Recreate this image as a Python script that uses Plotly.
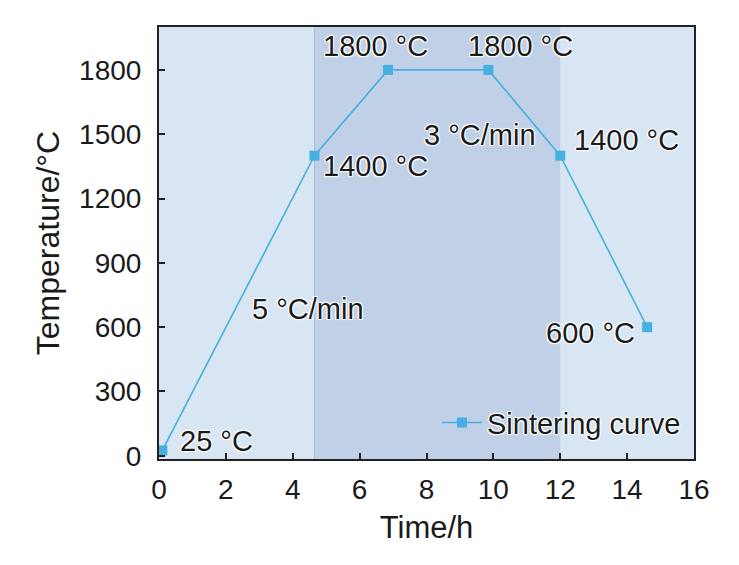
import plotly.graph_objects as go

time_h = [0.1, 4.65, 6.85, 9.85, 12.0, 14.6]
temp_c = [25, 1400, 1800, 1800, 1400, 600]
x_ticks = [0, 2, 4, 6, 8, 10, 12, 14, 16]
y_ticks = [0, 300, 600, 900, 1200, 1500, 1800]
hold_start, hold_end = 4.65, 12.0

ann_text = ["1800 °C", "1800 °C", "3 °C/min", "1400 °C", "1400 °C", "5 °C/min", "600 °C", "25 °C"]
ann_x = [6.46, 10.8, 9.6, 4.84, 12.35, 4.46, 14.29, 0.57]
ann_y = [1912, 1912, 1496, 1351, 1473, 683, 575, 70]
ann_anchor = ["center", "center", "center", "left", "left", "center", "right", "left"]

FONT = "Liberation Sans, Arial, sans-serif"
HALO = "1px 1px 1px white, -1px -1px 1px white, 1px -1px 1px white, -1px 1px 1px white"

fig = go.Figure()
fig.add_trace(go.Scatter(
    x=time_h, y=temp_c, mode="lines+markers", name="Sintering curve",
    line=dict(color="#45b0e1", width=1.6),
    marker=dict(symbol="square", size=10, color="#45b0e1"),
))

fig.add_shape(type="rect", xref="x", yref="paper", x0=-1, x1=17, y0=0, y1=1,
              fillcolor="#d8e5f2", line_width=0, layer="below")
fig.add_shape(type="rect", xref="x", yref="paper", x0=hold_start, x1=hold_end, y0=0, y1=1,
              fillcolor="#c0d1e7", line_width=0, layer="below")
fig.add_shape(type="line", xref="x", yref="paper", x0=hold_start, x1=hold_start, y0=0, y1=1,
              line=dict(color="#a9bdd8", width=1), layer="below")

for t, x, y, a in zip(ann_text, ann_x, ann_y, ann_anchor):
    fig.add_annotation(x=x, y=y, text=t, showarrow=False, xanchor=a, yanchor="middle",
                       font=dict(size=29, color="#1a1a1a", family=FONT, shadow=HALO))

fig.update_layout(
    width=739, height=565,
    margin=dict(l=159, r=45, t=27, b=106),
    paper_bgcolor="white", plot_bgcolor="rgba(0,0,0,0)",
    font=dict(family=FONT, size=28, color="#1a1a1a"),
    showlegend=True,
    legend=dict(x=0.985, y=0.025, xanchor="right", yanchor="bottom",
                bgcolor="rgba(0,0,0,0)", font=dict(size=29, shadow=HALO), itemwidth=40),
)
fig.update_xaxes(
    range=[0, 16], tickvals=x_ticks, ticks="inside", ticklen=6, tickwidth=1.5,
    tickcolor="#222", showline=True, linecolor="#222", linewidth=2, mirror=True,
    showgrid=False, zeroline=False, ticklabelstandoff=4,
    title=dict(text="Time/h", standoff=13, font=dict(size=31)),
    tickfont=dict(size=28),
)
fig.update_yaxes(
    range=[-15, 2000], tickvals=y_ticks, ticks="inside", ticklen=6, tickwidth=1.5,
    tickcolor="#222", showline=True, linecolor="#222", linewidth=2, mirror=True,
    showgrid=False, zeroline=False, ticklabelstandoff=10,
    title=dict(text="Temperature/°C", standoff=10, font=dict(size=32)),
    tickfont=dict(size=28),
)

fig.write_html("out.html")
